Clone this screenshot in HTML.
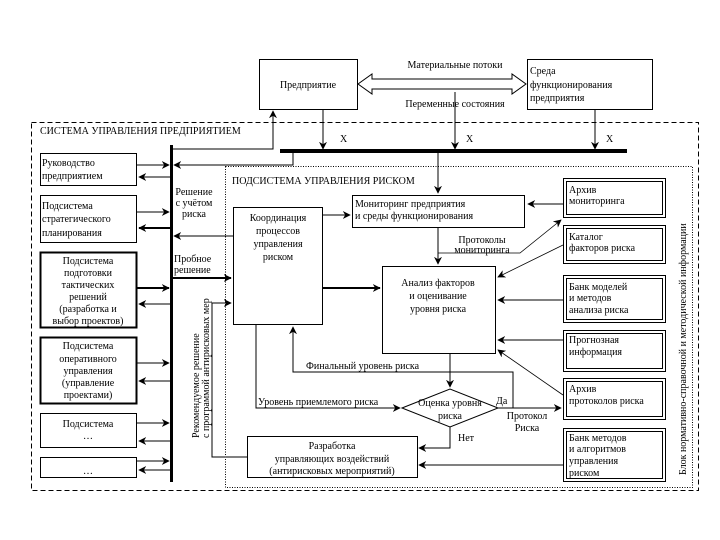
<!DOCTYPE html>
<html><head><meta charset="utf-8"><style>
html,body{margin:0;padding:0;background:#fff}
svg{display:block}
text{font-family:"Liberation Serif","DejaVu Serif",serif;font-size:10px;fill:#000}
</style></head><body>
<svg width="720" height="540" viewBox="0 0 720 540" xmlns="http://www.w3.org/2000/svg">
<defs>
<marker id="a" viewBox="0 0 10 10" refX="9" refY="5" markerWidth="8" markerHeight="8" orient="auto-start-reverse" markerUnits="userSpaceOnUse"><path d="M0,0 L10,5 L0,10 L3,5 Z" fill="#000"/></marker>
</defs>
<g fill="none" stroke="#000" stroke-width="1">
<!-- top boxes -->
<rect x="259.5" y="59.5" width="98" height="50"/>
<rect x="527.5" y="59.5" width="125" height="50"/>
<!-- double arrow -->
<path d="M358,84 L372,74 L372,79 L512,79 L512,74 L526,84 L512,94 L512,89 L372,89 L372,94 Z"/>
<!-- outer dashed -->
<rect x="31.5" y="122.5" width="667" height="368" stroke-dasharray="5,3"/>
<!-- inner dotted -->
<rect x="225.5" y="166.5" width="467" height="321" stroke-dasharray="1,1.5"/>
<!-- top vertical arrows to bar -->
<line x1="323" y1="109" x2="323" y2="149" marker-end="url(#a)"/>
<line x1="455" y1="92" x2="455" y2="149" marker-end="url(#a)"/>
<line x1="595" y1="109" x2="595" y2="149" marker-end="url(#a)"/>
<!-- line to enterprise -->
<polyline points="171,149 273,149 273,111" marker-end="url(#a)"/>
<!-- bar to left -->
<polyline points="293,152 293,165 174,165" marker-end="url(#a)"/>
<!-- left boxes -->
<rect x="40.5" y="153.5" width="96" height="32"/>
<rect x="40.5" y="195.5" width="96" height="47"/>
<rect x="40.5" y="252.5" width="96" height="75" stroke-width="2"/>
<rect x="40.5" y="337.5" width="96" height="66" stroke-width="2"/>
<rect x="40.5" y="413.5" width="96" height="34"/>
<rect x="40.5" y="457.5" width="96" height="20"/>
<!-- left arrows -->
<g>
<line x1="137" y1="165" x2="169" y2="165" marker-end="url(#a)"/>
<line x1="170" y1="177" x2="139" y2="177" marker-end="url(#a)"/>
<line x1="137" y1="212" x2="169" y2="212" marker-end="url(#a)"/>
<line x1="170" y1="228" x2="139" y2="228" marker-end="url(#a)" stroke-width="2"/>
<line x1="137" y1="288" x2="169" y2="288" marker-end="url(#a)" stroke-width="2"/>
<line x1="170" y1="304" x2="139" y2="304" marker-end="url(#a)"/>
<line x1="137" y1="363" x2="169" y2="363" marker-end="url(#a)"/>
<line x1="170" y1="381" x2="139" y2="381" marker-end="url(#a)"/>
<line x1="137" y1="423" x2="169" y2="423" marker-end="url(#a)"/>
<line x1="170" y1="441" x2="139" y2="441" marker-end="url(#a)"/>
<line x1="137" y1="461" x2="169" y2="461" marker-end="url(#a)"/>
<line x1="170" y1="470" x2="139" y2="470" marker-end="url(#a)"/>
</g>
<!-- coordination -->
<rect x="233.5" y="207.5" width="89" height="117"/>
<line x1="233" y1="236" x2="174" y2="236" marker-end="url(#a)"/>
<line x1="172" y1="278" x2="231" y2="278" marker-end="url(#a)" stroke-width="2"/>
<line x1="322" y1="215" x2="350" y2="215" marker-end="url(#a)"/>
<!-- monitoring -->
<rect x="352.5" y="195.5" width="172" height="32"/>
<line x1="438" y1="152" x2="438" y2="193" marker-end="url(#a)"/>
<line x1="438" y1="228" x2="438" y2="264" marker-end="url(#a)"/>
<polyline points="438,253 520,253 561,220" marker-end="url(#a)" stroke-width="0.8"/>
<!-- analysis -->
<rect x="382.5" y="266.5" width="113" height="87"/>
<line x1="323" y1="288" x2="380" y2="288" marker-end="url(#a)" stroke-width="2"/>
<!-- right boxes -->
<g>
<rect x="563.5" y="178.5" width="102" height="39"/><rect x="566.5" y="181.5" width="96" height="33"/>
<rect x="563.5" y="225.5" width="102" height="38"/><rect x="566.5" y="228.5" width="96" height="32"/>
<rect x="563.5" y="275.5" width="102" height="47"/><rect x="566.5" y="278.5" width="96" height="41"/>
<rect x="563.5" y="330.5" width="102" height="41"/><rect x="566.5" y="333.5" width="96" height="35"/>
<rect x="563.5" y="378.5" width="102" height="41"/><rect x="566.5" y="381.5" width="96" height="35"/>
<rect x="563.5" y="428.5" width="102" height="53"/><rect x="566.5" y="431.5" width="96" height="47"/>
</g>
<line x1="563" y1="204" x2="528" y2="204" marker-end="url(#a)"/>
<line x1="563" y1="245" x2="498" y2="277" marker-end="url(#a)" stroke-width="0.8"/>
<line x1="563" y1="300" x2="498" y2="300" marker-end="url(#a)"/>
<line x1="563" y1="340" x2="498" y2="340" marker-end="url(#a)"/>
<line x1="563" y1="395" x2="498" y2="350" marker-end="url(#a)" stroke-width="0.8"/>
<line x1="563" y1="465" x2="419" y2="465" marker-end="url(#a)"/>
<!-- diamond -->
<polygon points="402,408 450,389 498,408 450,427"/>
<line x1="450" y1="354" x2="450" y2="387" marker-end="url(#a)"/>
<line x1="498" y1="408" x2="561" y2="408" marker-end="url(#a)"/>
<polyline points="513,408 513,372 293,372 293,327" marker-end="url(#a)"/>
<polyline points="256,324 256,408 400,408" marker-end="url(#a)"/>
<polyline points="450,427 450,448 419,448" marker-end="url(#a)"/>
<!-- development -->
<rect x="247.5" y="436.5" width="170" height="41"/>
<polyline points="247,457 212,457 212,303 231,303" marker-end="url(#a)"/>
</g>
<!-- thick bars -->
<rect x="280" y="149" width="347" height="4" fill="#000"/>
<rect x="170" y="145" width="3" height="337" fill="#000"/>
<!-- text -->
<text x="308" y="88" text-anchor="middle">Предприятие</text>
<text x="455" y="68" text-anchor="middle">Материальные потоки</text>
<text x="455" y="107" text-anchor="middle">Переменные состояния</text>
<text x="530" y="74">Среда</text>
<text x="530" y="88">функционирования</text>
<text x="530" y="101" font-size="9">предприятия</text>
<text x="340" y="142">X</text><text x="466" y="142">X</text><text x="606" y="142">X</text>
<text x="40" y="134" font-size="9.5">СИСТЕМА УПРАВЛЕНИЯ ПРЕДПРИЯТИЕМ</text>
<text x="232" y="184" font-size="9.5">ПОДСИСТЕМА УПРАВЛЕНИЯ РИСКОМ</text>
<text x="42" y="166">Руководство</text><text x="42" y="179">предприятием</text>
<text x="42" y="209">Подсистема</text><text x="42" y="222">стратегического</text><text x="42" y="236">планирования</text>
<g text-anchor="middle">
<text x="88" y="264">Подсистема</text><text x="88" y="276">подготовки</text><text x="88" y="288">тактических</text><text x="88" y="300">решений</text><text x="88" y="312">(разработка и</text><text x="88" y="324">выбор проектов)</text>
<text x="88" y="349">Подсистема</text><text x="88" y="362">оперативного</text><text x="88" y="374">управления</text><text x="88" y="386">(управление</text><text x="88" y="398">проектами)</text>
<text x="88" y="427">Подсистема</text><text x="88" y="439">…</text>
<text x="88" y="474">…</text>
<text x="194" y="195" font-size="9">Решение</text><text x="194" y="206" font-size="9">с учётом</text><text x="194" y="217" font-size="9">риска</text>
<text x="278" y="221">Координация</text><text x="278" y="234">процессов</text><text x="278" y="247">управления</text><text x="278" y="260">риском</text>
<text x="438" y="286">Анализ факторов</text><text x="438" y="299">и оценивание</text><text x="438" y="312">уровня риска</text>
<text x="450" y="406" font-size="9">Оценка уровня</text><text x="450" y="419" font-size="9">риска</text>
<text x="332" y="449">Разработка</text><text x="332" y="462">управляющих воздействий</text><text x="332" y="474">(антирисковых мероприятий)</text>
<text x="482" y="243" font-size="9">Протоколы</text><text x="482" y="253" font-size="9">мониторинга</text>
<text x="527" y="419" font-size="9">Протокол</text><text x="527" y="431" font-size="9">Риска</text>
</g>
<text x="174" y="262" font-size="9">Пробное</text><text x="174" y="273" font-size="9">решение</text>
<text x="355" y="207" font-size="9">Мониторинг предприятия</text><text x="355" y="219" font-size="9">и среды функционирования</text>
<text x="306" y="369" font-size="9">Финальный уровень риска</text>
<text x="258" y="405" font-size="9">Уровень приемлемого риска</text>
<text x="496" y="404" font-size="9">Да</text>
<text x="458" y="441" font-size="9">Нет</text>
<g font-size="9">
<text x="569" y="193">Архив</text><text x="569" y="204">мониторинга</text>
<text x="569" y="240">Каталог</text><text x="569" y="251">факторов риска</text>
<text x="569" y="290">Банк моделей</text><text x="569" y="301">и методов</text><text x="569" y="313">анализа риска</text>
<text x="569" y="343">Прогнозная</text><text x="569" y="355">информация</text>
<text x="569" y="392">Архив</text><text x="569" y="404">протоколов риска</text>
<text x="569" y="441">Банк методов</text><text x="569" y="452">и алгоритмов</text><text x="569" y="464">управления</text><text x="569" y="476">риском</text>
</g>
<text transform="translate(686,475) rotate(-90)" font-size="9.5">Блок нормативно-справочной и методической информации</text>
<text transform="translate(199,438) rotate(-90)" font-size="9">Рекомендуемое решение</text>
<text transform="translate(209,438) rotate(-90)" font-size="9">с программой антирисковых мер</text>
</svg>
</body></html>
